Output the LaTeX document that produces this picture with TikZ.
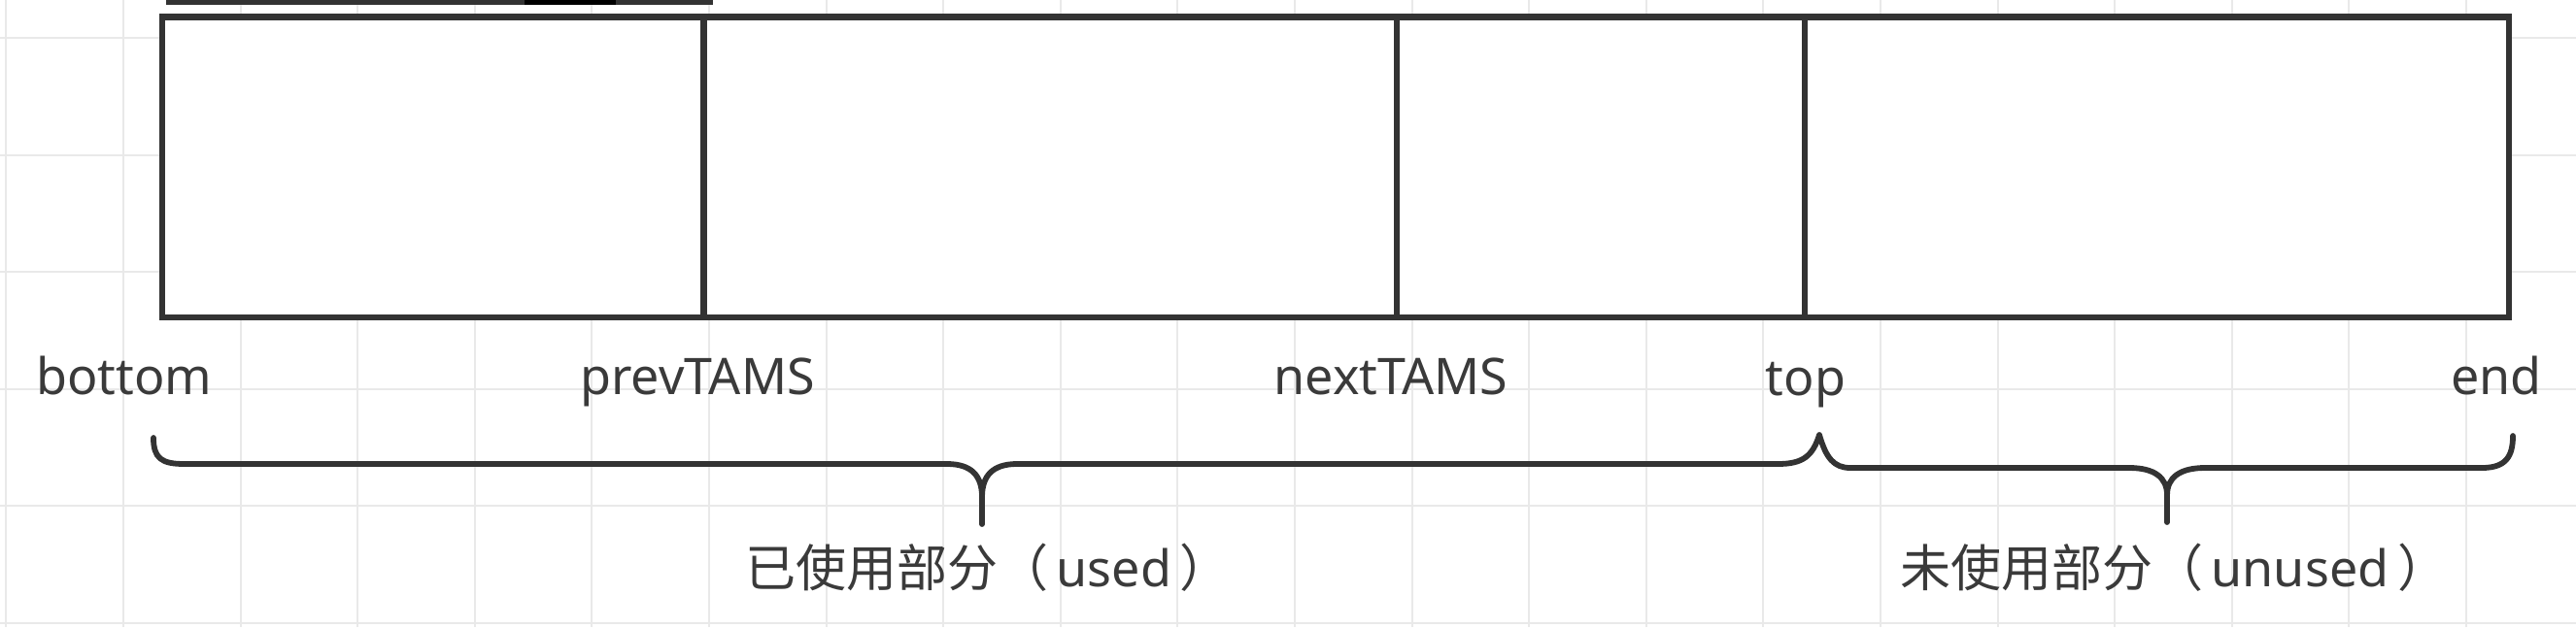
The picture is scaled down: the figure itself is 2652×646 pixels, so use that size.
\documentclass[tikz,border=0pt]{standalone}
\usepackage{fontspec}
\setmainfont{Noto Sans}
\newfontfamily\cjk{Noto Sans CJK SC}
\definecolor{linec}{HTML}{333333}
\definecolor{gridc}{HTML}{E9E9E9}
\definecolor{textc}{HTML}{3A3A3A}
\begin{document}
\begin{tikzpicture}[x=0.25pt,y=-0.25pt,
  gridline/.style={draw=gridc,line width=0.5pt},
  boxline/.style={draw=linec,line width=1.6pt},
  braceline/.style={draw=linec,line width=1.45pt,line join=round,line cap=round},
  lbl/.style={anchor=base,inner sep=0pt,text=textc,font=\fontsize{13}{15.6}\selectfont}]
\useasboundingbox (0,0) rectangle (2652,646);
\fill[white] (0,0) rectangle (2652,646);
% background grid
\foreach \k in {0,...,21} \draw[gridline] ({6.4+\k*120.6},0) -- ({6.4+\k*120.6},646);
\foreach \k in {0,...,5} \draw[gridline] (0,{39+\k*120.6}) -- (2652,{39+\k*120.6});
% cut-off bar at the top
\fill[linec] (171,0) rectangle (734,5);
\fill[black] (540,0) rectangle (634,5);
% the region
\coordinate (bl) at (167,17.5);
\coordinate (tr) at (2583,326.8);
\fill[white] (bl) rectangle (tr);
\draw[boxline] (bl) rectangle (tr);
\coordinate (pT) at (724.5,17.5); \coordinate (pB) at (724.5,326.8);
\coordinate (nT) at (1438,17.5);  \coordinate (nB) at (1438,326.8);
\coordinate (tT) at (1858,17.5);  \coordinate (tB) at (1858,326.8);
\draw[boxline] (pT) -- (pB);
\draw[boxline] (nT) -- (nB);
\draw[boxline] (tT) -- (tB);
% labels
\node[lbl] (lbottom) at (128,406) {bottom};
\node[lbl] (lprev) at (718,406) {prevTAMS};
\node[lbl] (lnext) at (1432,406) {nextTAMS};
\node[lbl] (ltop) at (1859,407) {top};
\node[lbl] (lend) at (2570,406) {end};
% braces
\draw[braceline] (158,451) .. controls (158,472) and (166,478) .. (190,478)
  -- (975,478) .. controls (1000,478) and (1011,490) .. (1011,512)
  .. controls (1011,490) and (1022,478) .. (1047,478)
  -- (1830,478) .. controls (1856,478) and (1866,470) .. (1873,448)
  .. controls (1880,472) and (1888,482) .. (1905,482)
  -- (2192,482) .. controls (2218,482) and (2231,492) .. (2231,510)
  .. controls (2231,492) and (2244,482) .. (2270,482)
  -- (2555,482) .. controls (2580,482) and (2587,470) .. (2587,449);
\draw[braceline] (1011,510) -- (1011,540);
\draw[braceline] (2231,508) -- (2231,538);
\node[lbl] (lused) at (1017,604) {{\cjk 已使用部分（}\,used\,{\cjk ）}};
\node[lbl] (lunused) at (2238,604) {{\cjk 未使用部分（}\,unused\,{\cjk ）}};
\end{tikzpicture}
\end{document}
